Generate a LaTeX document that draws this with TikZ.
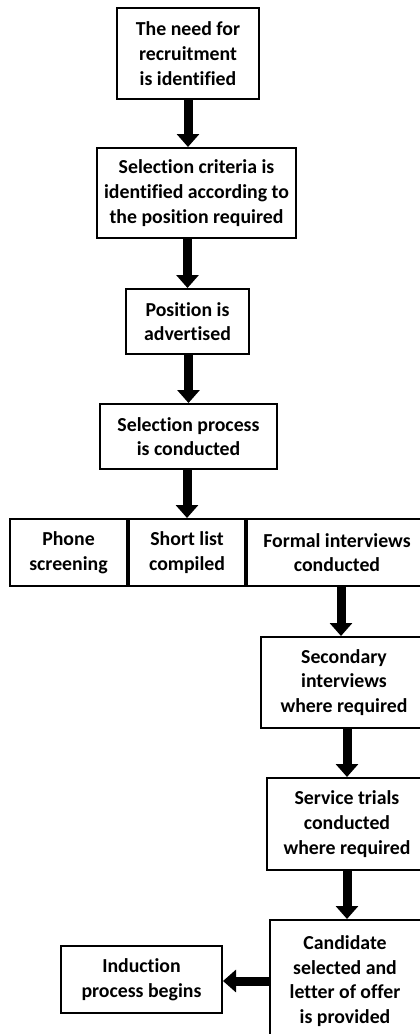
\documentclass[tikz,border=0pt]{standalone}
\usepackage{fontspec}
\setmainfont{Carlito}[Ligatures=NoCommon]
\usetikzlibrary{arrows.meta,calc}
\begin{document}
\begin{tikzpicture}[x=1pt,y=-1pt,
  txt/.style={align=center,inner sep=0pt,
    font=\bfseries\fontsize{19.8}{24.7}\selectfont},
  box/.style={txt,draw,line width=2pt},
  flow/.style={line width=9pt,-{Triangle[width=22pt,length=13pt]}}]
\useasboundingbox (0,0) rectangle (420,1034);
\clip (0,0) rectangle (420,1034);
\node[box,minimum width=142pt,minimum height=91pt] (b1) at (188,53.5) {The need for\\recruitment\\is identified};
\node[box,minimum width=199pt,minimum height=90pt] (b2) at (196.5,193) {Selection criteria is\\identified according to\\the position required};
\node[box,minimum width=123pt,minimum height=65pt] (b3) at (187.5,321.5) {Position is\\advertised};
\node[box,minimum width=177pt,minimum height=65pt] (b4) at (188.5,436.5) {Selection process\\is conducted};
\node[box,minimum width=117pt,minimum height=67pt] (ph) at (68.5,552.5) {Phone\\screening};
\node[box,minimum width=116pt,minimum height=67pt] (sl) at (187,552.5) {Short list\\compiled};
\node[box,minimum width=180pt,minimum height=67pt] (fi) at (337,552.5) {Formal interviews\\conducted};
\node[box,minimum width=166pt,minimum height=91pt] (si) at (344,682.5) {Secondary\\interviews\\where required};
\node[box,minimum width=160pt,minimum height=92pt] (st) at (347,824) {Service trials\\conducted\\where required};
\node[box,minimum width=157pt,minimum height=126pt] (cs) at (348.5,983) {};
\node[txt] (cst) at (345,981) {Candidate\\selected and\\letter of offer\\is provided};
\node[box,minimum width=161pt,minimum height=67pt] (ip) at (141.5,979.5) {Induction\\process begins};
\draw[flow] (b1.south) -- (b1.south |- b2.north);
\draw[flow] (b2.south -| b3.north) -- (b3.north);
\draw[flow] (b3.south -| b4.north) -- (b4.north);
\draw[flow] (b4.south -| sl.north) -- (sl.north);
\draw[flow] (fi.south -| si.north) ++(-3,0) -- ($(si.north)+(-3,0)$);
\draw[flow] (si.south -| st.north) -- (st.north);
\draw[flow] (st.south) -- (st.south |- cs.north);
\draw[flow] (cs.west |- 0,981) -- (ip.east |- 0,981);
\end{tikzpicture}
\end{document}
